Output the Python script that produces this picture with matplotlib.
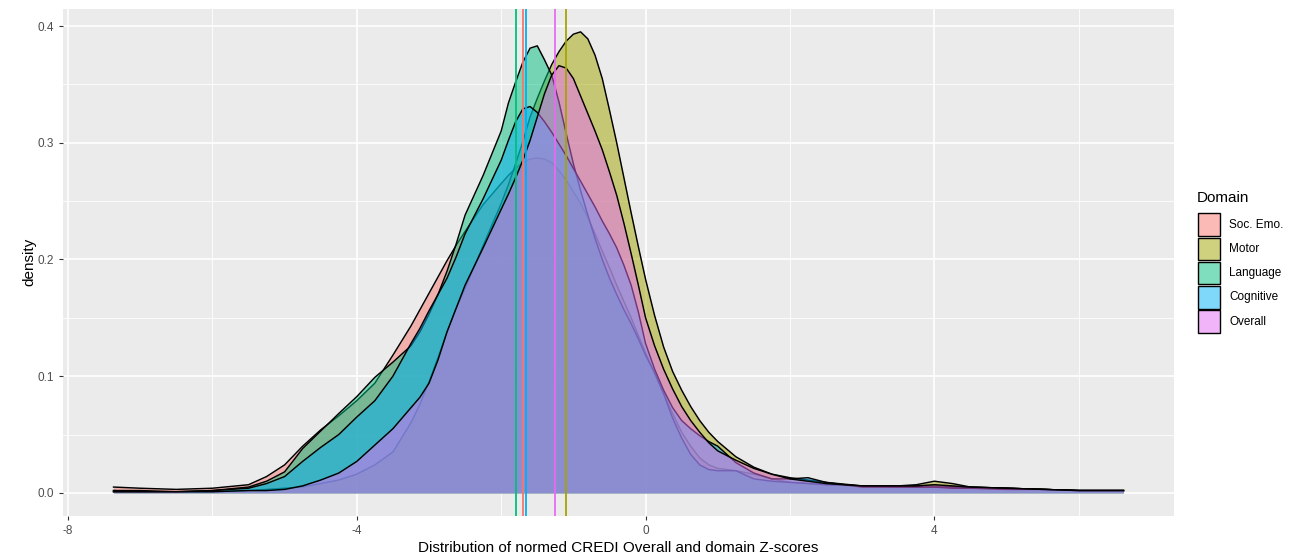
import matplotlib
matplotlib.use("Agg")
import matplotlib.pyplot as plt
from matplotlib.patches import Rectangle
from matplotlib.ticker import MultipleLocator, FormatStrFormatter, FuncFormatter
from matplotlib.colors import to_rgba

plt.rcParams['font.family'] = ['Liberation Sans', 'DejaVu Sans']

x = [-7.37, -7.0, -6.5, -6.0, -5.5, -5.25, -5.0, -4.75, -4.5, -4.25, -4.0, -3.75, -3.5, -3.25,
     -3.125, -3.0, -2.875, -2.75, -2.625, -2.5, -2.25, -2.0,
     -1.9, -1.8, -1.7, -1.6, -1.5, -1.4, -1.3, -1.2, -1.1, -1.0, -0.9, -0.8, -0.7, -0.6,
     -0.5, -0.4, -0.3, -0.2, -0.1, 0.0,
     0.125, 0.25, 0.375, 0.5, 0.625, 0.75, 0.875, 1.0,
     1.25, 1.5, 1.75, 2.0, 2.25, 2.5, 3.0, 3.5, 3.75, 4.0, 4.25, 4.5, 5.0, 5.5, 6.0, 6.62]

soc_emo = [0.005, 0.004, 0.003, 0.004, 0.007, 0.014, 0.024, 0.040, 0.054, 0.066, 0.079, 0.094, 0.118, 0.143,
           0.157, 0.171, 0.185, 0.199, 0.212, 0.224, 0.247, 0.265,
           0.272, 0.278, 0.283, 0.286, 0.287, 0.286, 0.283, 0.276, 0.268, 0.258, 0.248, 0.236, 0.222, 0.207,
           0.193, 0.178, 0.164, 0.150, 0.135, 0.120,
           0.102, 0.085, 0.068, 0.052, 0.040, 0.030, 0.024, 0.021,
           0.019, 0.016, 0.012, 0.009, 0.008, 0.007, 0.006, 0.006, 0.006, 0.006, 0.005, 0.005, 0.004, 0.003, 0.002, 0.002]
motor = [0.002, 0.001, 0.001, 0.001, 0.002, 0.003, 0.004, 0.005, 0.008, 0.011, 0.016, 0.024, 0.035, 0.060,
         0.076, 0.095, 0.116, 0.138, 0.158, 0.175, 0.212, 0.248,
         0.264, 0.282, 0.301, 0.322, 0.338, 0.353, 0.367, 0.378, 0.387, 0.393, 0.395, 0.389, 0.375, 0.355,
         0.328, 0.300, 0.270, 0.240, 0.211, 0.183,
         0.152, 0.125, 0.104, 0.088, 0.074, 0.062, 0.052, 0.044,
         0.031, 0.022, 0.016, 0.013, 0.011, 0.009, 0.006, 0.006, 0.007, 0.010, 0.008, 0.005, 0.004, 0.003, 0.002, 0.002]
language = [0.002, 0.002, 0.001, 0.002, 0.005, 0.010, 0.018, 0.038, 0.053, 0.068, 0.0825, 0.099, 0.112, 0.126,
            0.138, 0.153, 0.170, 0.190, 0.213, 0.238, 0.272, 0.310,
            0.334, 0.352, 0.369, 0.381, 0.383, 0.371, 0.358, 0.335, 0.308, 0.282, 0.259, 0.238, 0.218, 0.200,
            0.184, 0.170, 0.157, 0.145, 0.132, 0.118,
            0.103, 0.085, 0.064, 0.047, 0.033, 0.024, 0.020, 0.019,
            0.019, 0.012, 0.010, 0.009, 0.008, 0.007, 0.006, 0.005, 0.005, 0.005, 0.005, 0.004, 0.004, 0.003, 0.002, 0.002]
cognitive = [0.001, 0.001, 0.001, 0.002, 0.004, 0.008, 0.014, 0.027, 0.039, 0.050, 0.065, 0.079, 0.100, 0.128,
             0.141, 0.156, 0.170, 0.184, 0.202, 0.222, 0.252, 0.285,
             0.302, 0.318, 0.329, 0.331, 0.326, 0.318, 0.309, 0.299, 0.289, 0.278, 0.267, 0.256, 0.245, 0.233,
             0.222, 0.210, 0.195, 0.178, 0.155, 0.128,
             0.106, 0.088, 0.073, 0.062, 0.055, 0.049, 0.044, 0.040,
             0.026, 0.017, 0.012, 0.012, 0.013, 0.009, 0.005, 0.005, 0.005, 0.005, 0.004, 0.004, 0.003, 0.003, 0.002, 0.002]
overall = [0.001, 0.001, 0.001, 0.001, 0.002, 0.002, 0.003, 0.006, 0.011, 0.017, 0.027, 0.041, 0.055, 0.073,
           0.082, 0.094, 0.114, 0.138, 0.158, 0.178, 0.210, 0.243,
           0.256, 0.270, 0.285, 0.302, 0.322, 0.342, 0.358, 0.366, 0.364, 0.355, 0.340, 0.325, 0.310, 0.294,
           0.275, 0.255, 0.231, 0.205, 0.178, 0.150,
           0.126, 0.106, 0.089, 0.074, 0.062, 0.052, 0.043, 0.036,
           0.028, 0.021, 0.016, 0.012, 0.010, 0.008, 0.006, 0.006, 0.006, 0.007, 0.006, 0.005, 0.004, 0.003, 0.002, 0.002]

domains = ["Soc. Emo.", "Motor", "Language", "Cognitive", "Overall"]
means = [-1.70, -1.10, -1.795, -1.655, -1.255]
colors = ["#F8766D", "#A3A500", "#00BF7D", "#00B0F6", "#E76BF3"]
series = [soc_emo, motor, language, cognitive, overall]

W, H = 1304, 556
fig = plt.figure(figsize=(W/100, H/100), dpi=100)
ax = fig.add_axes([63/W, 40/H, 1111/W, 507.5/H])
ax.set_facecolor("#EBEBEB")

# each group: fill then outline, so later fills wash out earlier outlines
for i, (y, c) in enumerate(zip(series, colors)):
    ax.fill_between(x, 0, y, color=c, alpha=0.5, lw=0, zorder=2 + 2*i)
    ax.plot(x, y, color="black", lw=1.05, zorder=3 + 2*i)

for m, c in zip(means, colors):
    ax.axvline(m, color=c, lw=1.3, zorder=20)

ax.set_xlim(-8.07, 7.32)
ax.set_ylim(-0.0198, 0.415)
ax.xaxis.set_major_locator(MultipleLocator(4))
ax.xaxis.set_minor_locator(MultipleLocator(2))
ax.yaxis.set_major_locator(MultipleLocator(0.1))
ax.yaxis.set_minor_locator(MultipleLocator(0.05))
ax.grid(which="major", color="white", lw=1.2)
ax.grid(which="minor", color="white", lw=0.6)
ax.set_axisbelow(True)
for s in ax.spines.values():
    s.set_visible(False)
ax.tick_params(which="major", length=3, width=0.8, color="#333333", labelcolor="#4D4D4D", labelsize=8.5)
ax.tick_params(which="minor", length=0)
ax.yaxis.set_major_formatter(FormatStrFormatter("%.1f"))
ax.xaxis.set_major_formatter(FuncFormatter(lambda v, p: "%d" % v))

ax.set_xlabel("Distribution of normed CREDI Overall and domain Z-scores", fontsize=11, labelpad=3)
ax.set_ylabel("density", fontsize=11, labelpad=1)

# legend, drawn like ggplot's guide
fig.text(1197/W, 1 - 198.5/H, "Domain", fontsize=11, ha="left", va="center")
for i, (name, c) in enumerate(zip(domains, colors)):
    top = 213.3 + i * 24.25
    fig.add_artist(Rectangle((1197.5/W, 1 - (top + 22.5)/H), 22.5/W, 22.5/H,
                             transform=fig.transFigure, facecolor=to_rgba(c, 0.5),
                             edgecolor="black", lw=1.0))
    fig.text(1229/W, 1 - (top + 11.25)/H, name, fontsize=8.5, ha="left", va="center")

fig.savefig("out.png", dpi=100)
